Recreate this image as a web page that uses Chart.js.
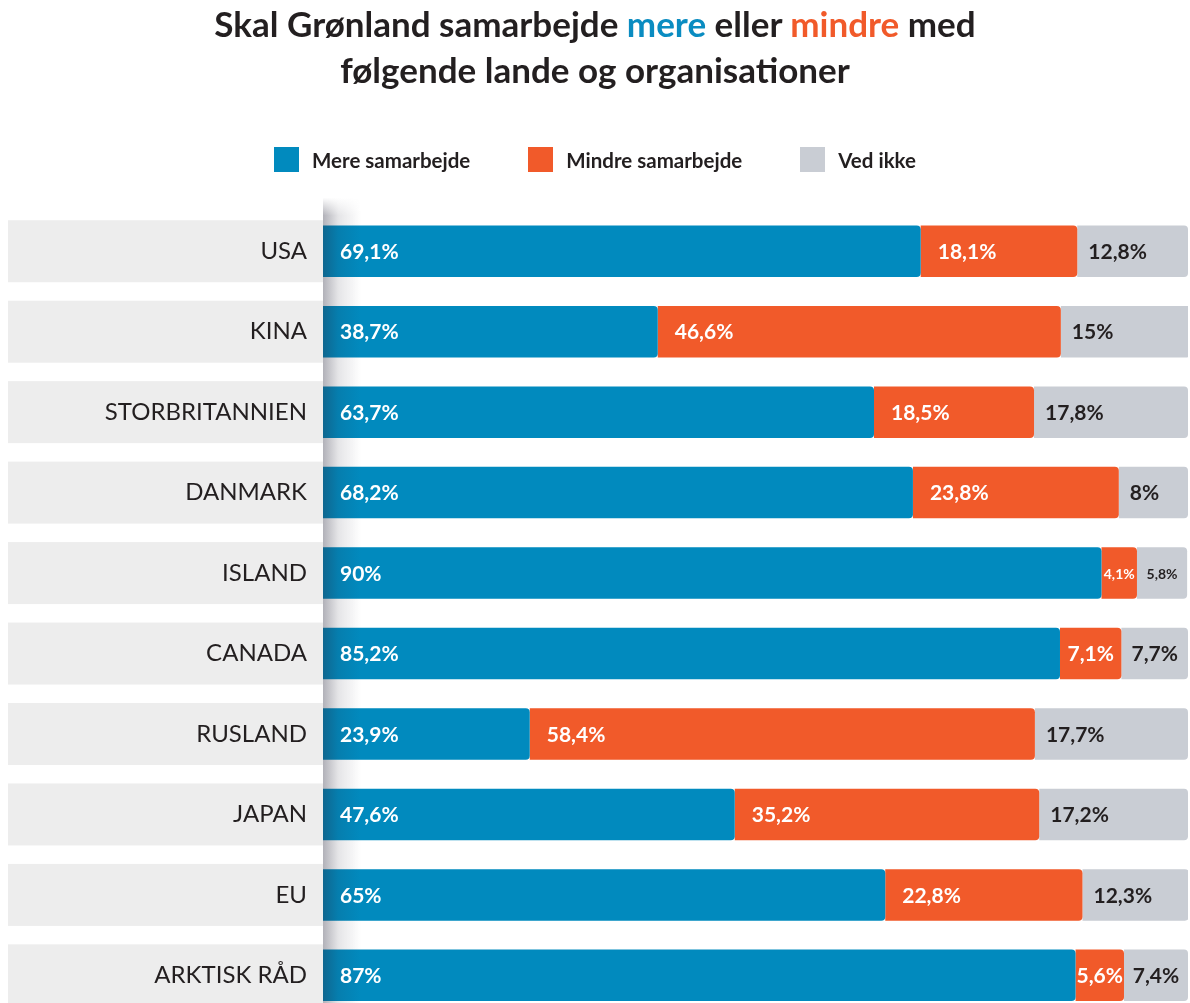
<!DOCTYPE html>
<html lang="da">
<head>
<meta charset="utf-8">
<script src="https://cdn.jsdelivr.net/npm/chart.js@4.4.1/dist/chart.umd.min.js"></script>
<style>
    body { margin: 0; background: #fff; overflow: hidden; font-family: Lato, "Noto Sans", sans-serif; }
    #wrap { position: relative; width: 1190px; height: 1003px; overflow: hidden; }
    #title {
        position: absolute; top: 0; left: 0; width: 1190px; text-align: center;
        font-weight: 700; font-size: 35px; line-height: 46px; color: #231f20;
    }
    #title .mere { color: #0a8cc1; }
    #title .mindre { color: #f15a2a; }
    #legend {
        position: absolute; top: 147px; left: 0; width: 1190px; height: 25px;
        display: flex; justify-content: center; align-items: center; gap: 58px;
    }
    .item { display: flex; align-items: center; font-weight: 700; font-size: 20.5px; color: #231f20; }
    .box { width: 25px; height: 25px; margin-right: 13px; }
    #chart { position: absolute; top: 0; left: 0; }
</style>
</head>
<body>
<div id="wrap">
    <canvas id="chart" width="1190" height="1038"></canvas>
    <div id="title">Skal Grønland samarbejde <span class="mere">mere</span> eller <span class="mindre">mindre</span> med<br>følgende lande og organisationer</div>
    <div id="legend"></div>
</div>
<script>
const categories = ['USA', 'KINA', 'STORBRITANNIEN', 'DANMARK', 'ISLAND', 'CANADA', 'RUSLAND', 'JAPAN', 'EU', 'ARKTISK RÅD'];
const mere = [69.1, 38.7, 63.7, 68.2, 90, 85.2, 23.9, 47.6, 65, 87];
const mindre = [18.1, 46.6, 18.5, 23.8, 4.1, 7.1, 58.4, 35.2, 22.8, 5.6];
const vedIkke = [12.8, 15, 17.8, 8, 5.8, 7.7, 17.7, 17.2, 12.3, 7.4];
const seriesNames = ['Mere samarbejde', 'Mindre samarbejde', 'Ved ikke'];
const seriesColors = ['#018abe', '#f15a2a', '#c9cdd4'];
const labelColors = ['#ffffff', '#ffffff', '#231f20'];

const FONT = 'Lato, "Noto Sans", sans-serif';

// HTML legend
const legendEl = document.getElementById('legend');
seriesNames.forEach((name, i) => {
    const item = document.createElement('div');
    item.className = 'item';
    item.innerHTML = '<span class="box" style="background:' + seriesColors[i] + '"></span>' + name;
    legendEl.appendChild(item);
});

function fmt(v) {
    return String(v).replace('.', ',') + '%';
}

// grå felter bag kategorinavne
const rowBackground = {
    id: 'rowBackground',
    beforeDraw(chart) {
        const ctx = chart.ctx;
        const y = chart.scales.y;
        ctx.save();
        ctx.fillStyle = '#ededed';
        categories.forEach((c, i) => {
            const py = y.getPixelForValue(i);
            ctx.fillRect(8, py - 31, chart.chartArea.left - 8, 62);
        });
        ctx.restore();
    }
};

// skygge + værdietiketter
const barLabels = {
    id: 'barLabels',
    afterDatasetsDraw(chart) {
        const ctx = chart.ctx;
        const left = chart.chartArea.left;
        ctx.save();

        // skygge ved venstre kant
        const grad = ctx.createLinearGradient(left, 0, left + 38, 0);
        grad.addColorStop(0, 'rgba(40,40,60,0.36)');
        grad.addColorStop(0.4, 'rgba(40,40,60,0.12)');
        grad.addColorStop(1, 'rgba(40,40,60,0)');
        ctx.fillStyle = grad;
        for (let yy = 197; yy < 215; yy++) {
            ctx.globalAlpha = (yy - 197) / 18;
            ctx.fillRect(left, yy, 38, 1);
        }
        ctx.globalAlpha = 1;
        ctx.fillRect(left, 215, 38, chart.height - 215);

        const normalFont = 'bold 21px ' + FONT;
        const smallFont = 'bold 14px ' + FONT;

        // rækker med et meget smalt segment får mindre etiketter
        const smallRows = categories.map((c, i) =>
            chart.data.datasets.some((ds, d) => {
                const bar = chart.getDatasetMeta(d).data[i];
                return bar.x - bar.base < 42;
            })
        );

        chart.data.datasets.forEach((ds, d) => {
            const meta = chart.getDatasetMeta(d);
            meta.data.forEach((bar, i) => {
                const text = fmt(ds.data[i]);
                const w = bar.x - bar.base;
                ctx.font = (smallRows[i] && w < 70) ? smallFont : normalFont;
                const tw = ctx.measureText(text).width;
                const pad = d === 2 ? 11 : 17;
                let tx = bar.base + pad;
                if (tw + pad * 2 > w) tx = bar.base + (w - tw) / 2;
                ctx.fillStyle = labelColors[d];
                ctx.textAlign = 'left';
                ctx.textBaseline = 'middle';
                ctx.fillText(text, tx, bar.y + 1);
            });
        });
        ctx.restore();
    }
};

const radius = { topLeft: 0, bottomLeft: 0, topRight: 4, bottomRight: 4 };

new Chart(document.getElementById('chart'), {
    type: 'bar',
    data: {
        labels: categories,
        datasets: [mere, mindre, vedIkke].map((values, i) => ({
            label: seriesNames[i],
            data: values,
            backgroundColor: seriesColors[i],
            borderRadius: radius,
            borderSkipped: false,
            barPercentage: 0.64,
            categoryPercentage: 1
        }))
    },
    options: {
        indexAxis: 'y',
        responsive: false,
        animation: false,
        layout: { padding: { top: 211, bottom: 5, left: 0, right: 2 } },
        plugins: {
            legend: { display: false },
            tooltip: { enabled: false }
        },
        scales: {
            x: { stacked: true, min: 0, max: 100, display: false },
            y: {
                stacked: true,
                grid: { display: false },
                border: { display: false },
                afterFit(scale) { scale.width = 323; },
                ticks: {
                    color: '#231f20',
                    padding: 8,
                    font: { family: FONT, size: 24, weight: 'normal' }
                }
            }
        }
    },
    plugins: [rowBackground, barLabels]
});
</script>
</body>
</html>
